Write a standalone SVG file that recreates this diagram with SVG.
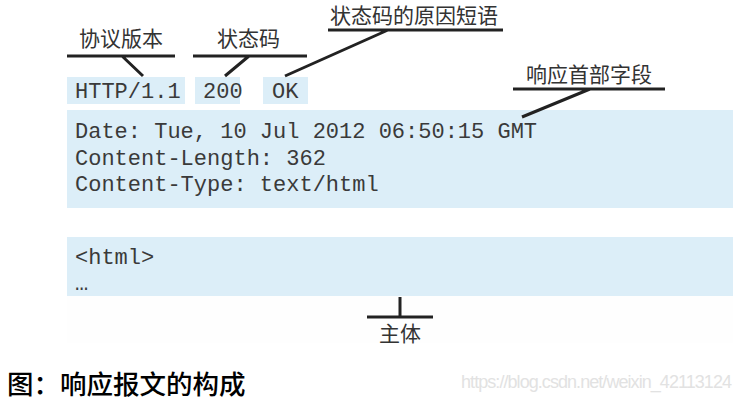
<svg xmlns="http://www.w3.org/2000/svg" width="741" height="403" viewBox="0 0 741 403">
<style>
.box{fill:#dceef8}
.mono{font-family:"Liberation Mono","Courier New",monospace;font-size:22px;fill:#3a3a3a}
.lab{font-family:"Noto Sans CJK SC","Noto Sans",sans-serif;font-size:21px;fill:#333}
.ln{stroke:#222;stroke-width:3;fill:none;stroke-linecap:butt}
</style>
<rect width="741" height="403" fill="#fff"/>
<rect x="67" y="296" width="666" height="47" fill="#fefefe"/>
<g id="version"><rect class="box" x="67" y="77" width="118" height="27"/><text class="mono" x="75" y="98">HTTP/1.1</text></g>
<g id="status"><rect class="box" x="195" y="77" width="45" height="27"/><text class="mono" x="203" y="98">200</text></g>
<g id="reason"><rect class="box" x="263" y="77" width="45" height="27"/><text class="mono" x="272" y="98">OK</text></g>
<g id="headers"><rect class="box" x="67" y="110" width="666" height="98"/>
<text class="mono" x="75" y="138">Date: Tue, 10 Jul 2012 06:50:15 GMT</text>
<text class="mono" x="75" y="165">Content-Length: 362</text>
<text class="mono" x="75" y="191">Content-Type: text/html</text></g>
<g id="body"><rect class="box" x="67" y="237" width="666" height="59"/>
<text class="mono" x="75" y="264">&lt;html&gt;</text>
<text class="mono" x="75" y="290">…</text></g>
<g id="label-version"><text class="lab" x="79" y="46">协议版本</text></g>
<g id="label-status"><text class="lab" x="217" y="46">状态码</text></g>
<g id="label-reason"><text class="lab" x="330" y="23">状态码的原因短语</text></g>
<g id="label-headers"><text class="lab" x="526" y="82">响应首部字段</text></g>
<g id="label-body"><text class="lab" x="379" y="341">主体</text></g>
<g id="connectors">
<path class="ln" d="M67 56H175M122 56L143 76"/>
<path class="ln" d="M193 56H307M249 56L225 76"/>
<path class="ln" d="M328 30H503M388 30L285 76"/>
<path class="ln" d="M513 89H665M590 89L522 117"/>
<path class="ln" d="M367 317H433M400 297V317"/>
</g>
<text x="7" y="394" style="font-family:'Noto Sans CJK SC',sans-serif;font-size:26.5px;font-weight:500;fill:#000">图：响应报文的构成</text>
<text x="461" y="388" style="font-family:'Liberation Sans',Arial,sans-serif;font-size:18px;fill:#e2e2e2" textLength="271">https://blog.csdn.net/weixin_42113124</text>
</svg>
